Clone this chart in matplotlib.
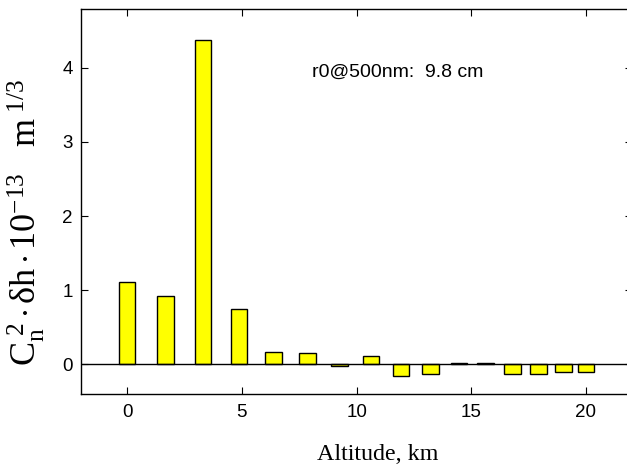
import numpy as np
import matplotlib
matplotlib.use('Agg')
import matplotlib.pyplot as plt

# altitude of each layer (km) and integrated Cn2 * dh (1e-13 m^1/3)
altitude = [0.0, 1.67, 3.31, 4.88, 6.37, 7.85, 9.25, 10.62, 11.94,
            13.22, 14.46, 15.62, 16.79, 17.94, 19.03, 20.0]
cn2dh = [1.11, 0.92, 4.37, 0.75, 0.17, 0.15, -0.02, 0.11, -0.155,
         -0.13, 0.012, 0.012, -0.13, -0.13, -0.105, -0.105]
xticks = [0, 5, 10, 15, 20]
yticks = [0, 1, 2, 3, 4]
r0_text = 'r0@500nm:  9.8 cm'

plt.rcParams['mathtext.fontset'] = 'custom'
plt.rcParams['mathtext.rm'] = 'Liberation Serif'
plt.rcParams['mathtext.it'] = 'Liberation Serif:italic'

fig = plt.figure(figsize=(6.27, 4.70), dpi=100)
ax = fig.add_axes([0.1297, 0.1617, 0.878, 0.8202])

ax.bar(altitude, cn2dh, width=0.72, color='#ffff00', edgecolor='black',
       linewidth=1.0, zorder=2)
ax.axhline(0, color='black', linewidth=1.0, zorder=3)

ax.set_xlim(-2, 22)
ax.set_ylim(-0.4, 4.8)
ax.set_xticks(xticks)
ax.set_yticks(yticks)
ax.tick_params(direction='in', top=True, right=True, length=5, width=0.8,
               labelsize=13.5)
ax.tick_params(axis='x', pad=7)
ax.tick_params(axis='y', pad=6)
for lab in ax.get_xticklabels() + ax.get_yticklabels():
    lab.set_family('Liberation Sans')
for s in ax.spines.values():
    s.set_linewidth(1.0)

ax.text(8.07, 3.94, r0_text, fontsize=14, family='Liberation Sans',
        ha='left', va='center')

ax.set_xlabel('Altitude, km', family='Liberation Serif', fontsize=17.3)
ax.xaxis.set_label_coords(0.539, -0.13)
ax.set_ylabel(r'$\mathrm{C_n^{\ 2}\,{\cdot}\,\delta h\,{\cdot}\,10^{-13}\quad m^{\ 1/3}}$',
              fontsize=26)
ax.yaxis.set_label_coords(-0.062, 0.445)

fig.savefig('out.png', dpi=100)
